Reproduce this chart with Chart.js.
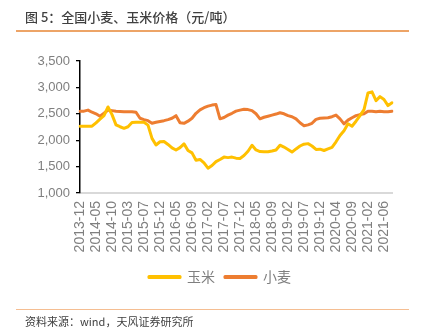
<!DOCTYPE html>
<html>
<head>
<meta charset="utf-8">
<script src="https://cdn.jsdelivr.net/npm/chart.js@4/dist/chart.umd.min.js"></script>
<style>
  html, body { margin: 0; padding: 0; background: #fff; }
  #wrap { position: relative; width: 422px; height: 328px; overflow: hidden; }
  #chart { position: absolute; left: 0; top: 0; }
  .title { position: absolute; left: 25px; top: 8px; font: 500 13px "Noto Sans CJK SC", sans-serif; color: #404040; white-space: nowrap; line-height: 18px; }
  .rule-top { position: absolute; left: 16px; top: 30px; width: 393px; height: 1.5px; background: #EDA467; }
  .rule-bot { position: absolute; left: 16px; top: 308.5px; width: 393px; height: 1.5px; background: #F5BE92; }
  .source { position: absolute; left: 25px; top: 313px; font: 11px "Noto Sans CJK SC", sans-serif; color: #404040; white-space: nowrap; line-height: 16px; }
</style>
</head>
<body>
<div id="wrap">
  <canvas id="chart" width="422" height="328"></canvas>
  <div class="title">图 5：全国小麦、玉米价格（元/吨）</div>
  <div class="rule-top"></div>
  <div class="rule-bot"></div>
  <div class="source">资料来源：wind，天风证券研究所</div>
</div>
<script>
// Tick labels (one every 4 data points)
const tickLabels = ["2013-12","2014-05","2014-10","2015-03","2015-07","2015-12","2016-05","2016-09","2017-02","2017-07",
                    "2017-12","2018-05","2018-09","2019-02","2019-07","2019-12","2020-04","2020-09","2021-02","2021-06"];
const pointsPerTick = 4;

// 玉米 (corn) price, yuan/ton
const cornValues = [2265,2265,2265,2265,2330,2400,2465,2630,2485,2290,
                    2255,2225,2255,2335,2340,2340,2340,2285,2035,1910,
                    1970,1975,1920,1855,1815,1860,1930,1805,1760,1620,
                    1635,1570,1470,1520,1595,1635,1680,1670,1680,1660,
                    1655,1710,1790,1905,1815,1785,1780,1780,1795,1815,
                    1905,1870,1825,1775,1835,1890,1925,1935,1890,1825,
                    1830,1805,1835,1865,1970,2090,2180,2310,2265,2360,
                    2465,2580,2895,2915,2750,2825,2770,2655,2710];

// 小麦 (wheat) price, yuan/ton
const wheatValues = [2550,2550,2570,2530,2500,2455,2510,2570,2560,2550,
                     2545,2540,2540,2540,2530,2415,2390,2370,2320,2340,
                     2355,2370,2390,2415,2465,2330,2320,2360,2415,2510,
                     2575,2615,2645,2665,2675,2405,2430,2475,2510,2550,
                     2570,2585,2580,2560,2500,2405,2435,2455,2475,2495,
                     2520,2500,2465,2445,2405,2330,2275,2290,2320,2395,
                     2415,2420,2425,2445,2475,2405,2310,2380,2425,2465,
                     2485,2500,2550,2550,2540,2550,2540,2540,2550];

const yTicks = [1000,1500,2000,2500,3000,3500];

// Build category labels from tick labels
const labels = cornValues.map((_, i) =>
  (i % pointsPerTick === 0 && tickLabels[i / pointsPerTick]) ? tickLabels[i / pointsPerTick] : "");

const FONT = '"Liberation Sans", Arial, sans-serif';

// shift the legend block so it is centred like the reference
const legendShift = {
  id: 'legendShift',
  afterLayout(chart) {
    const lg = chart.legend;
    if (lg) { lg.left += 19; lg.right += 19; }
  }
};

new Chart(document.getElementById('chart'), {
  type: 'line',
  data: {
    labels: labels,
    datasets: [
      { label: '玉米', data: cornValues, borderColor: '#FFC000', backgroundColor: '#FFC000',
        borderWidth: 3, pointRadius: 0, tension: 0, borderJoinStyle: 'round', borderCapStyle: 'round' },
      { label: '小麦', data: wheatValues, borderColor: '#ED7D31', backgroundColor: '#ED7D31',
        borderWidth: 3, pointRadius: 0, tension: 0, borderJoinStyle: 'round', borderCapStyle: 'round' }
    ]
  },
  plugins: [legendShift],
  options: {
    responsive: false,
    animation: false,
    devicePixelRatio: 1,
    layout: { padding: { top: 61, left: 10, right: 30, bottom: 34 } },
    plugins: {
      title: { display: false },
      tooltip: { enabled: false },
      legend: {
        position: 'bottom',
        labels: {
          boxWidth: 31, boxHeight: 1, padding: 10,
          color: '#7f7f7f',
          font: { family: '"Noto Sans CJK SC", sans-serif', size: 14 }
        }
      }
    },
    scales: {
      x: {
        type: 'category',
        offset: false,
        grid: { display: false, drawTicks: false },
        border: { display: true, color: '#D9D9D9', width: 2 },
        ticks: {
          autoSkip: false, maxRotation: 90, minRotation: 90, padding: 8,
          color: '#7f7f7f', font: { family: FONT, size: 14 }
        },
        afterFit: (s) => { s.height = 67; }
      },
      y: {
        min: 1000, max: 3500,
        afterBuildTicks: (s) => { s.ticks = yTicks.map(v => ({ value: v })); },
        grid: { display: true, drawOnChartArea: false, drawTicks: true, tickLength: 4, color: '#000', lineWidth: 1.3 },
        border: { display: true, color: '#000', width: 1.5 },
        ticks: {
          padding: 6, color: '#7f7f7f', font: { family: FONT, size: 13 },
          callback: (v) => v.toLocaleString('en-US')
        },
        afterFit: (s) => { s.width = 70; }
      }
    }
  }
});
</script>
</body>
</html>
